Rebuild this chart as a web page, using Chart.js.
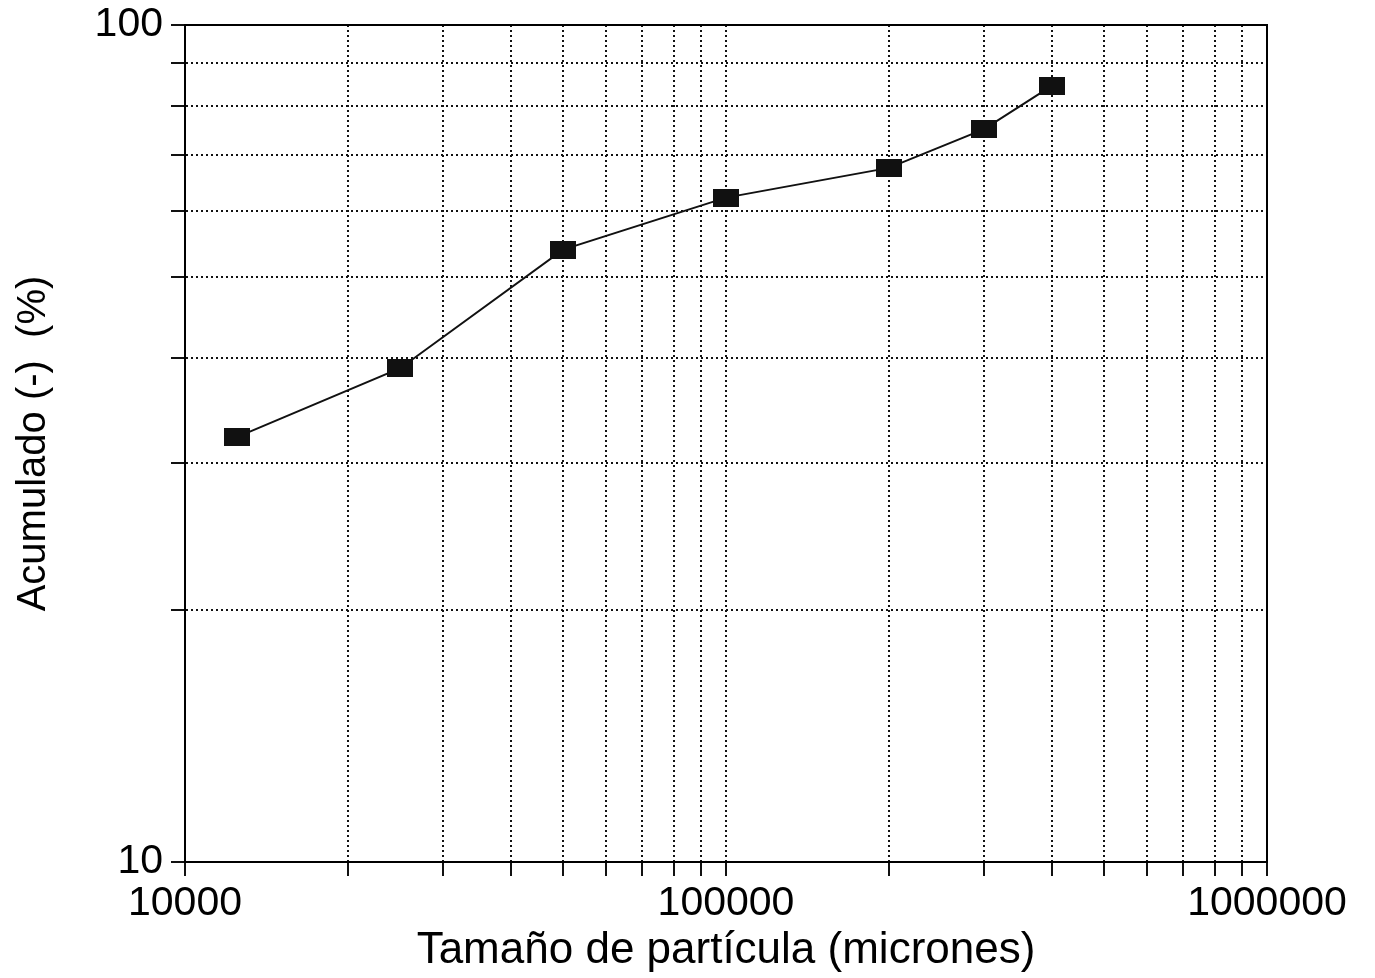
<!DOCTYPE html>
<html>
<head>
<meta charset="utf-8">
<script src="https://cdn.jsdelivr.net/npm/chart.js@4/dist/chart.umd.min.js"></script>
<style>
  html, body { margin: 0; padding: 0; background: #fff; }
  #wrap { width: 1375px; height: 978px; }
</style>
</head>
<body>
<div id="wrap"><canvas id="grafico"></canvas></div>
<script>
// tamaño de particula (micrones) y acumulado (%)
const tamanos = [12500, 25000, 50000, 100000, 200000, 300000, 400000];
const acumulado = [32.2, 38.9, 53.9, 62.2, 67.5, 75.1, 84.6];
// posiciones de las divisiones y etiquetas visibles
const xTicks = [10000, 20000, 30000, 40000, 50000, 60000, 70000, 80000, 90000,
                100000, 200000, 300000, 400000, 500000, 600000, 700000, 800000, 900000, 1000000];
const yTicks = [10, 20, 30, 40, 50, 60, 70, 80, 90, 100];
const xLabels = [10000, 100000, 1000000];
const yLabels = [10, 100];

const fuente = "'Liberation Sans', Arial, Helvetica, sans-serif";

// marcador rectangular negro
const marca = document.createElement("canvas");
marca.width = 26;
marca.height = 18;
const mctx = marca.getContext("2d");
mctx.fillStyle = "#111";
mctx.fillRect(0, 0, 26, 18);

// marco superior y derecho solido
const marco = {
  id: "marco",
  afterDraw(chart){
    const a = chart.chartArea;
    const ctx = chart.ctx;
    ctx.save();
    ctx.strokeStyle = "#000";
    ctx.lineWidth = 2;
    ctx.beginPath();
    ctx.moveTo(a.left, a.top);
    ctx.lineTo(a.right, a.top);
    ctx.lineTo(a.right, a.bottom);
    ctx.stroke();
    ctx.restore();
  }
};

const puntos = tamanos.map((t, i) => ({x: t, y: acumulado[i]}));

new Chart(document.getElementById("grafico").getContext("2d"), {
  type: "line",
  data: {
    datasets: [{
      data: puntos,
      borderColor: "#111",
      borderWidth: 2,
      pointStyle: marca,
      pointRadius: 10,
      tension: 0
    }]
  },
  options: {
    responsive: true,
    maintainAspectRatio: false,
    animation: false,
    layout: { padding: { left: 0, right: 108, top: 25, bottom: 0 } },
    plugins: { legend: { display: false }, tooltip: { enabled: false } },
    scales: {
      x: {
        type: "logarithmic",
        min: 10000,
        max: 1000000,
        afterBuildTicks: s => { s.ticks = xTicks.map(v => ({value: v})); },
        afterFit: s => { s.height = 116; },
        grid: { color: "#111", lineWidth: 2, tickLength: 14, drawTicks: true },
        border: { display: true, color: "#000", width: 2, dash: [2, 3] },
        ticks: {
          color: "#000",
          font: { family: fuente, size: 41 },
          padding: 3,
          maxRotation: 0,
          autoSkip: false,
          callback: v => xLabels.includes(v) ? String(v) : ""
        },
        title: {
          display: true,
          text: "Tamaño de partícula (micrones)",
          color: "#000",
          font: { family: fuente, size: 44 },
          padding: { top: 0, bottom: 1 }
        }
      },
      y: {
        type: "logarithmic",
        min: 10,
        max: 100,
        afterBuildTicks: s => { s.ticks = yTicks.map(v => ({value: v})); },
        afterFit: s => { s.width = 185; s.paddingTop = 0; s.paddingBottom = 0; },
        grid: { color: "#111", lineWidth: 2, tickLength: 14, drawTicks: true },
        border: { display: true, color: "#000", width: 2, dash: [2, 3] },
        ticks: {
          color: "#000",
          font: { family: fuente, size: 41 },
          padding: 8,
          autoSkip: false,
          callback: v => yLabels.includes(v) ? String(v) : ""
        },
        title: {
          display: true,
          text: "Acumulado (-)  (%)",
          color: "#000",
          font: { family: fuente, size: 40 },
          padding: { top: 10, bottom: 0 }
        }
      }
    }
  },
  plugins: [marco]
});
</script>
</body>
</html>
